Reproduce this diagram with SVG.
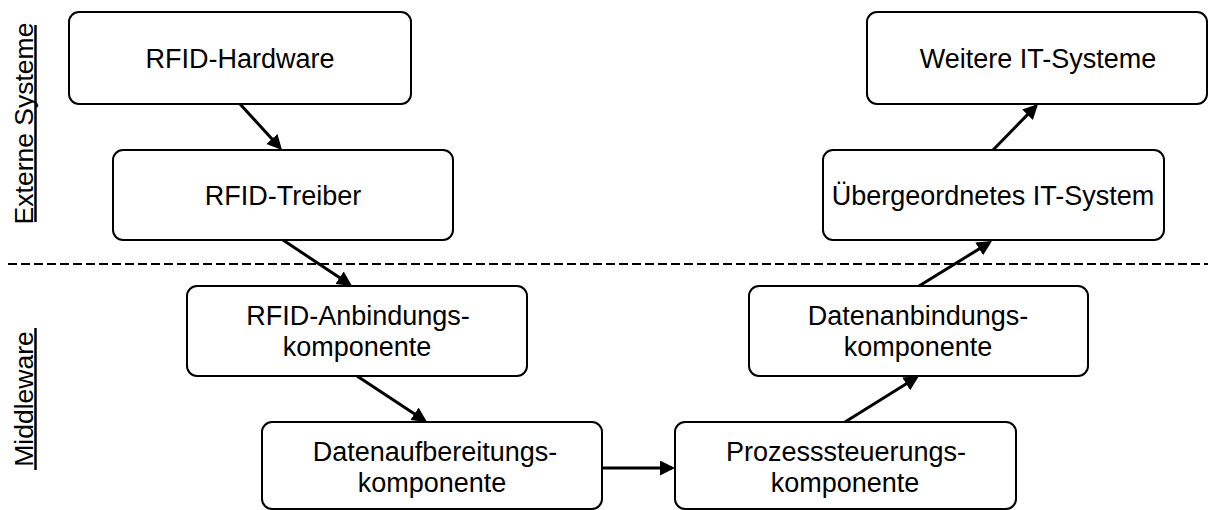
<svg xmlns="http://www.w3.org/2000/svg" width="1208" height="510" viewBox="0 0 1208 510">
<style>
  .box { fill: #fff; stroke: #000; stroke-width: 2; }
  .lbl { font-family: "Liberation Sans", Arial, sans-serif; font-size: 27px; fill: #000; text-anchor: middle; }
  .side { font-family: "Liberation Sans", Arial, sans-serif; font-size: 26.5px; fill: #000; text-anchor: middle; }
  .ul { stroke: #000; stroke-width: 2.5; }
  .conn { stroke: #000; stroke-width: 3; fill: none; marker-end: url(#ah); }
  .sep { stroke: #000; stroke-width: 2; stroke-dasharray: 9 4; }
</style>
<defs>
  <marker id="ah" markerUnits="userSpaceOnUse" markerWidth="18" markerHeight="18" refX="12" refY="7.5" orient="auto">
    <path d="M0,0 L15,7.5 L0,15 Z" fill="#000"/>
  </marker>
</defs>
<rect width="1208" height="510" fill="#fff"/>

<g id="labels">
  <text class="side" transform="translate(33,123.5) rotate(-90)">Externe Systeme</text>
  <line class="ul" x1="35.5" y1="25" x2="35.5" y2="222"/>
  <text class="side" transform="translate(33,399) rotate(-90)">Middleware</text>
  <line class="ul" x1="35.5" y1="328" x2="35.5" y2="470"/>
</g>

<line id="separator" class="sep" x1="8" y1="264" x2="1208" y2="264"/>

<g id="n-hardware">
  <rect class="box" x="69" y="12" width="342" height="92" rx="10"/>
  <text class="lbl" x="240" y="68">RFID-Hardware</text>
</g>
<g id="n-treiber">
  <rect class="box" x="113" y="150" width="340" height="90" rx="10"/>
  <text class="lbl" x="283" y="205">RFID-Treiber</text>
</g>
<g id="n-weitere">
  <rect class="box" x="867" y="12" width="340" height="92" rx="10"/>
  <text class="lbl" x="1038" y="68">Weitere IT-Systeme</text>
</g>
<g id="n-ueber">
  <rect class="box" x="823" y="150" width="341" height="90" rx="10"/>
  <text class="lbl" x="993" y="205">Übergeordnetes IT-System</text>
</g>
<g id="n-rfidanb">
  <rect class="box" x="187" y="286" width="340" height="90" rx="10"/>
  <text class="lbl" x="358" y="325">RFID-Anbindungs-</text>
  <text class="lbl" x="357" y="356">komponente</text>
</g>
<g id="n-datanb">
  <rect class="box" x="749" y="286" width="339" height="90" rx="10"/>
  <text class="lbl" x="918" y="325">Datenanbindungs-</text>
  <text class="lbl" x="918" y="356">komponente</text>
</g>
<g id="n-aufb">
  <rect class="box" x="262" y="422" width="340" height="87" rx="10"/>
  <text class="lbl" x="435" y="461">Datenaufbereitungs-</text>
  <text class="lbl" x="432" y="492">komponente</text>
</g>
<g id="n-prozess">
  <rect class="box" x="675" y="422" width="341" height="87" rx="10"/>
  <text class="lbl" x="846" y="461">Prozesssteuerungs-</text>
  <text class="lbl" x="845" y="492">komponente</text>
</g>

<g id="connectors">
  <line class="conn" x1="240" y1="104" x2="280" y2="147.8"/>
  <line class="conn" x1="283" y1="240" x2="349.5" y2="284.3"/>
  <line class="conn" x1="357" y1="376" x2="424.5" y2="420.4"/>
  <line class="conn" x1="602" y1="468" x2="672" y2="468"/>
  <line class="conn" x1="845" y1="422" x2="916.4" y2="377.6"/>
  <line class="conn" x1="919" y1="286" x2="989.4" y2="242.6"/>
  <line class="conn" x1="993" y1="150" x2="1035.9" y2="106.1"/>
</g>
</svg>
